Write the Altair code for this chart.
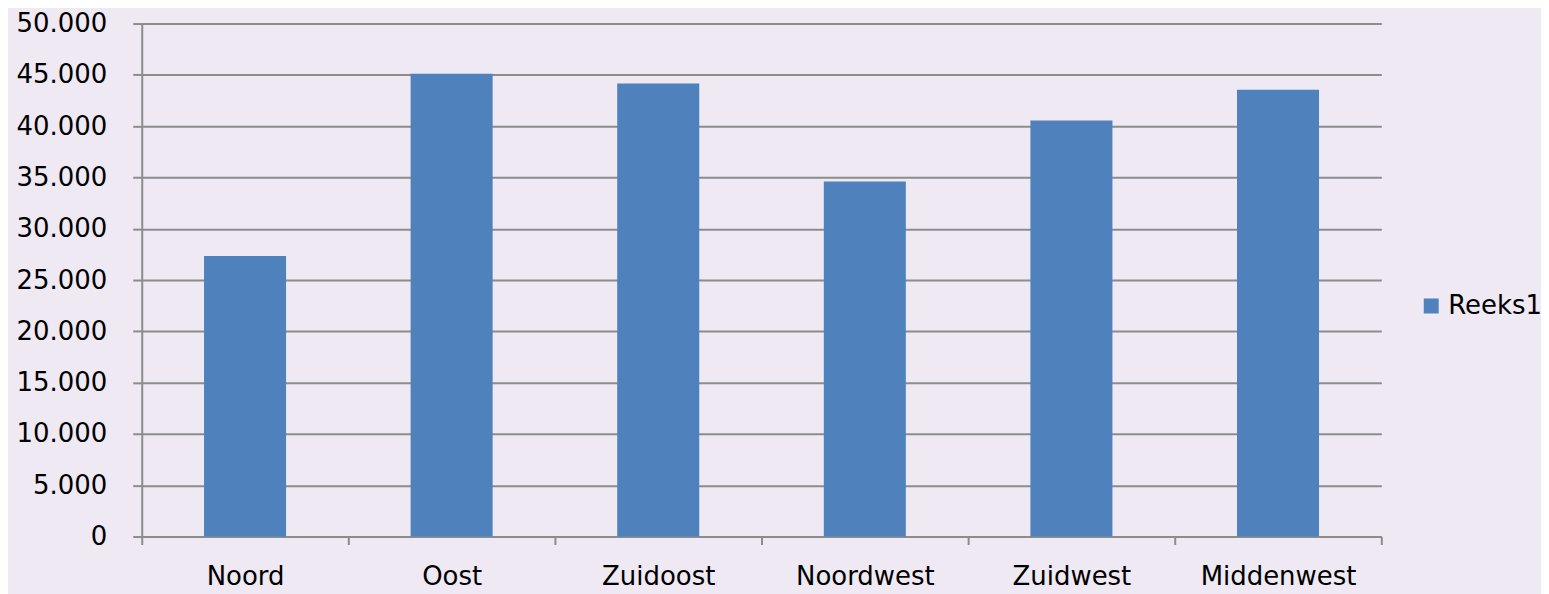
import altair as alt
import pandas as pd

categories = ["Noord", "Oost", "Zuidoost", "Noordwest", "Zuidwest", "Middenwest"]
values = [27350, 45100, 44150, 34600, 40550, 43550]
series = ["Reeks1"] * len(categories)
y_ticks = [0, 5000, 10000, 15000, 20000, 25000, 30000, 35000, 40000, 45000, 50000]

df = pd.DataFrame({"regio": categories, "waarde": values, "reeks": series})

FONT = "DejaVu Sans"
GRID = "#8C8C8C"
FS = 26

chart = (
    alt.Chart(df)
    .mark_bar(color="#4F81BD", width=alt.RelativeBandSize(0.397))
    .encode(
        x=alt.X(
            "regio:N",
            sort=categories,
            title=None,
            scale=alt.Scale(paddingInner=0, paddingOuter=0, round=False),
            axis=alt.Axis(
                labelAngle=0,
                labelFontSize=FS,
                labelFont=FONT,
                labelColor="#000000",
                labelPadding=19,
                tickBand="extent",
                tickSize=8,
                tickColor=GRID,
                tickWidth=2,
                domainColor=GRID,
                domainWidth=2,
                grid=False,
            ),
        ),
        y=alt.Y(
            "waarde:Q",
            title=None,
            scale=alt.Scale(domain=[0, 50000], nice=False),
            axis=alt.Axis(
                values=y_ticks,
                labelExpr="replace(format(datum.value, ','), ',', '.')",
                labelFontSize=FS,
                labelFont=FONT,
                labelColor="#000000",
                labelPadding=26,
                tickSize=9,
                tickColor=GRID,
                tickWidth=2,
                domainColor=GRID,
                domainWidth=2,
                grid=True,
                gridColor=GRID,
                gridWidth=2,
            ),
        ),
        color=alt.Color(
            "reeks:N",
            scale=alt.Scale(range=["#4F81BD"]),
            legend=alt.Legend(
                title=None,
                orient="none",
                legendX=1279,
                legendY=270,
                symbolType="square",
                symbolSize=225,
                symbolStrokeWidth=0,
                symbolOpacity=1,
                labelFontSize=FS,
                labelFont=FONT,
                labelColor="#000000",
                labelOffset=4,
                padding=0,
            ),
        ),
    )
    .properties(
        width=1242,
        height=514,
        background="#EEE9F3",
        padding={"left": 134, "top": 15, "right": 160, "bottom": 57},
        autosize=alt.AutoSizeParams(type="none"),
    )
    .configure_view(stroke=None)
)

chart.save("out.html", embed_options={"renderer": "svg", "actions": False})
